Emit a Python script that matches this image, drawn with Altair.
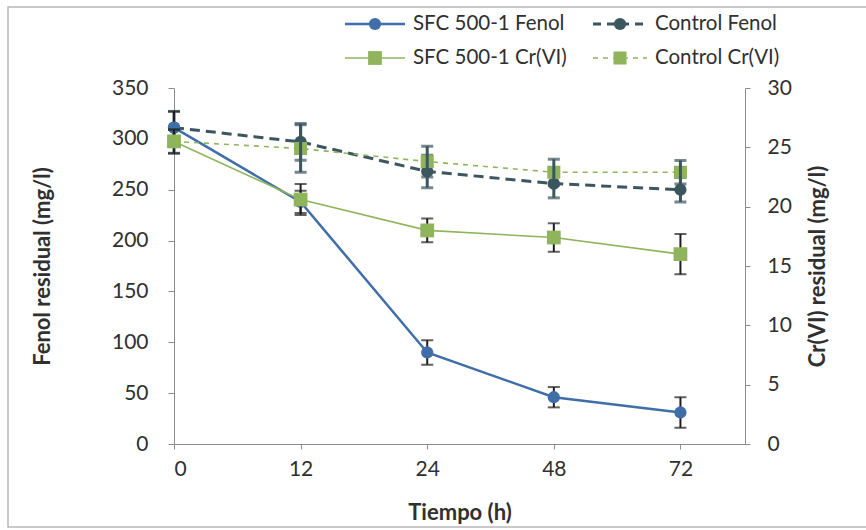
import json
import altair as alt
import pandas as pd

# ---- data ----
time_labels = ["0", "12", "24", "48", "72"]
idx = [0, 1, 2, 3, 4]

sfc_fenol = [311, 238, 90, 46, 31]
sfc_fenol_err = [16, 11, 12, 10, 15]
ctrl_fenol = [311, 297, 268, 256, 250]
ctrl_fenol_err = [16, 18, 16, 14, 12]

sfc_cr = [25.5, 20.6, 18.0, 17.4, 16.0]
sfc_cr_err = [1.0, 1.3, 1.0, 1.2, 1.7]
ctrl_cr = [25.5, 24.9, 23.8, 22.9, 22.9]
ctrl_cr_err = [1.0, 2.0, 1.3, 1.1, 1.0]

series_names = ["SFC 500-1 Fenol", "Control Fenol", "SFC 500-1 Cr(VI)", "Control Cr(VI)"]

BLUE = "#3f6ea8"
DARK = "#3c5660"
GREEN = "#8fb45c"
ERR = "#1e1e1e"
FONT = "Lato"
TXT = "#303030"
LBL = 21
TTL = 22


def frame(vals, errs):
    return pd.DataFrame({
        "i": idx,
        "v": vals,
        "lo": [a - b for a, b in zip(vals, errs)],
        "hi": [a + b for a, b in zip(vals, errs)],
    })


label_expr = json.dumps(time_labels) + "[datum.value]"

X = alt.X(
    "i:Q",
    scale=alt.Scale(domain=[0, 4.51], nice=False, zero=False),
    axis=alt.Axis(
        values=idx, labelExpr=label_expr, title="Tiempo (h)",
        tickSize=5, labelPadding=9, titlePadding=23,
        grid=False, domainColor="#8c8c8c", tickColor="#8c8c8c",
        labelFont=FONT, labelFontSize=LBL, labelColor=TXT,
        titleFont=FONT, titleFontSize=TTL, titleFontWeight="bold", titleColor=TXT,
    ),
)


def series(vals, errs, scale_domain, axis, color, dash, width, shape, size,
           err_color, err_width, err_on_top):
    df = frame(vals, errs)
    ysc = alt.Scale(domain=scale_domain, nice=False)
    base = alt.Chart(df)
    line_kw = dict(color=color, strokeWidth=width)
    if dash:
        line_kw["strokeDash"] = dash
    line = base.mark_line(**line_kw).encode(x=X, y=alt.Y("v:Q", scale=ysc, axis=axis))
    rule = base.mark_rule(color=err_color, strokeWidth=err_width).encode(
        x=X, y=alt.Y("lo:Q", scale=ysc, axis=axis), y2="hi:Q")
    cap_lo = base.mark_tick(orient="horizontal", color=err_color, size=12,
                            thickness=err_width).encode(x=X, y=alt.Y("lo:Q", scale=ysc, axis=axis))
    cap_hi = base.mark_tick(orient="horizontal", color=err_color, size=12,
                            thickness=err_width).encode(x=X, y=alt.Y("hi:Q", scale=ysc, axis=axis))
    pts = base.mark_point(filled=True, shape=shape, size=size, color=color,
                          opacity=1).encode(x=X, y=alt.Y("v:Q", scale=ysc, axis=axis))
    if err_on_top:
        return [line, pts, rule, cap_lo, cap_hi]
    return [line, rule, cap_lo, cap_hi, pts]


left_axis = alt.Axis(
    values=list(range(0, 351, 50)), title="Fenol residual (mg/l)", orient="left",
    tickSize=6, labelPadding=20, titlePadding=57, grid=False,
    domainColor="#8c8c8c", tickColor="#8c8c8c",
    labelFont=FONT, labelFontSize=LBL, labelColor=TXT,
    titleFont=FONT, titleFontSize=TTL, titleFontWeight="bold", titleColor=TXT,
)
right_axis = alt.Axis(
    values=list(range(0, 31, 5)), title="Cr(VI) residual (mg/l)", orient="right",
    tickSize=5, labelPadding=17, titlePadding=16, grid=False,
    titleAngle=270, titleBaseline="top",
    domainColor="#8c8c8c", tickColor="#8c8c8c",
    labelFont=FONT, labelFontSize=LBL, labelColor=TXT,
    titleFont=FONT, titleFontSize=TTL, titleFontWeight="bold", titleColor=TXT,
)

fenol_layers = (
    series(ctrl_fenol, ctrl_fenol_err, [0, 350], left_axis, DARK, [10, 6], 3,
           "circle", 150, DARK, 3, True)
    + series(sfc_fenol, sfc_fenol_err, [0, 350], left_axis, BLUE, None, 2.5,
             "circle", 150, ERR, 2, False)
)
cr_layers = (
    series(ctrl_cr, ctrl_cr_err, [0, 30], right_axis, GREEN, [5, 5], 1.6,
           "square", 170, DARK, 3, True)
    + series(sfc_cr, sfc_cr_err, [0, 30], right_axis, GREEN, None, 1.6,
             "square", 190, ERR, 2, False)
)

fenol = alt.layer(*fenol_layers)
cr = alt.layer(*cr_layers)

# ---- legend (drawn manually, 2 x 2) ----
one = pd.DataFrame({"k": [0]})
leg_items = [
    (series_names[0], 171, 231, -64, BLUE, None, 2.5, "circle", 150),
    (series_names[1], 419, 473, -64, DARK, [8, 6], 3, "circle", 150),
    (series_names[2], 171, 231, -30, GREEN, None, 1.6, "square", 190),
    (series_names[3], 419, 473, -30, GREEN, [5, 5], 1.6, "square", 170),
]
legend_layers = []
for name, x0, x1, yy, col, dash, w, shape, size in leg_items:
    kw = dict(color=col, strokeWidth=w)
    if dash:
        kw["strokeDash"] = dash
    legend_layers.append(alt.Chart(one).mark_rule(**kw).encode(
        x=alt.value(x0), x2=alt.value(x1), y=alt.value(yy)))
    legend_layers.append(alt.Chart(one).mark_point(
        filled=True, shape=shape, size=size, color=col, opacity=1).encode(
        x=alt.value((x0 + x1) / 2), y=alt.value(yy)))
    legend_layers.append(alt.Chart(one).mark_text(
        align="left", baseline="middle", font=FONT, fontSize=20.5, color=TXT).encode(
        x=alt.value(x1 + 8), y=alt.value(yy), text=alt.value(name)))

border = alt.Chart(one).mark_rect(fill="transparent", stroke="#b8b8b8", strokeWidth=1.5).encode(
    x=alt.value(-166), x2=alt.value(700), y=alt.value(-81), y2=alt.value(439))

chart = alt.layer(
    border, fenol, cr, *legend_layers
).resolve_scale(y="independent").properties(
    width=571, height=356,
    autosize=alt.AutoSizeParams(type="none"),
    padding={"left": 174, "top": 88, "right": 121, "bottom": 86},
    background="white",
).configure_view(stroke=None)

chart.save("out.html", embed_options={"renderer": "svg", "actions": False})
